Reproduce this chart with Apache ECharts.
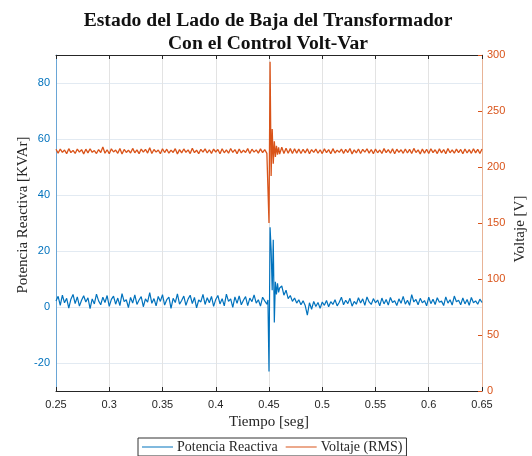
<!DOCTYPE html>
<html>
<head>
<meta charset="utf-8">
<script src="https://cdn.jsdelivr.net/npm/echarts/dist/echarts.min.js"></script>
<style>
html,body{margin:0;padding:0;background:#fff;}
#chart{width:532px;height:456px;}
</style>
</head>
<body>
<div id="chart"></div>
<script>
// ---- Data ----
const titleLines = ['Estado del Lado de Baja del Transformador', 'Con el Control Volt-Var'];
const seriesNames = ['Potencia Reactiva', 'Voltaje (RMS)'];
const xTicks = [0.25, 0.3, 0.35, 0.4, 0.45, 0.5, 0.55, 0.6, 0.65];
const leftTicks = [-20, 0, 20, 40, 60, 80];
const rightTicks = [0, 50, 100, 150, 200, 250, 300];

// sampling of the smooth parts: start times and step (s)
const beforeStart = 0.25, afterStart = 0.46, sampleStep = 0.002;

// Reactive power [kVAr], 0.250 .. 0.448
const qBefore = [
 2.1, 3.8, 0.6, 4.2, 1.5, 3.1, -0.4, 2.8, 4.5, 1.2, 3.6, 0.3, 2.4, 4.0, 1.8, 3.3, -0.6, 2.9, 1.1, 4.6,
 2.2, 0.8, 3.5, 1.6, 4.1, 0.2, 2.7, 3.9, 1.0, 3.2, 0.5, 4.8, 1.9, 2.6, -0.2, 3.4, 1.4, 4.3, 0.9, 2.5,
 3.7, 0.1, 2.9, 1.7, 5.1, 1.3, 3.0, 0.4, 3.8, 2.0, 4.4, 0.7, 2.6, 3.5, -0.5, 3.1, 1.6, 4.7, 1.0, 2.3,
 3.9, 0.6, 2.8, 4.2, 1.2, 3.4, -0.3, 2.5, 1.8, 4.5, 0.9, 3.3, 1.5, 3.8, 0.2, 2.7, 4.1, 1.1, 3.0, 0.4,
 4.6, 2.0, 2.9, -0.1, 3.6, 1.3, 4.0, 0.8, 2.4, 3.7, 0.5, 3.2, 1.9, 4.3, 1.4, 2.6, 0.3, 3.5, 2.2, 1.0
];
// Reactive power around the switching event [t, kVAr]
const qSpike = [
 [0.449, 2.5], [0.450, -23.0], [0.451, 28.5], [0.452, 20.5], [0.453, 6.0], [0.454, 24.0],
 [0.455, -5.5], [0.456, 9.0], [0.457, 4.5], [0.458, 8.5], [0.459, 5.2]
];
// Reactive power, 0.460 .. 0.650
const qAfter = [
 6.8, 7.5, 4.2, 6.0, 3.0, 4.1, 2.0, 3.2, 1.4, 2.6, 0.8, 2.2, 0.5, -2.9, 1.5, -0.8, 2.0, 0.2, 1.6, -0.5,
 1.8, 0.6, 2.3, 0.1, 1.9, 0.9, 2.6, 0.4, 1.7, 3.5, 0.8, 2.4, 1.2, 3.1, 0.3, 2.0, 1.0, 3.3,
 1.4, 2.9, 0.6, 3.6, 1.8, 0.9, 3.0, 1.5, 2.5, 0.4, 3.2, 1.1, 2.7, 0.7, 3.4, 1.6, 2.2, 0.5, 2.9, 1.3,
 3.8, 1.0, 2.4, 0.6, 4.4, 1.8, 2.7, 0.8, 3.1, 1.5, 2.3, 0.4, 3.5, 1.2, 2.8, 0.9, 3.3, 1.7, 2.1, 0.5,
 3.6, 1.4, 2.6, 0.7, 3.9, 1.9, 2.4, 0.8, 3.2, 1.1, 2.7, 0.6, 3.4, 1.5, 2.2, 1.0, 2.8, 1.6
];

// RMS voltage [V], 0.250 .. 0.448
const vBefore = [
 215.8, 212.4, 216.1, 213.0, 215.2, 211.9, 216.4, 212.8, 214.9, 212.1, 216.0, 213.3, 215.5, 211.7, 215.9, 212.6, 216.3, 213.1, 214.7, 212.0,
 215.6, 212.9, 217.8, 212.3, 215.4, 211.8, 216.2, 213.4, 215.1, 212.2, 216.5, 211.6, 215.7, 213.0, 215.0, 212.5, 216.6, 212.7, 215.3, 211.9,
 216.0, 213.2, 215.8, 212.4, 217.2, 212.1, 215.6, 213.3, 215.2, 211.8, 216.3, 212.9, 215.9, 212.3, 215.1, 213.0, 216.4, 211.7, 215.5, 212.6,
 216.1, 213.1, 215.3, 212.0, 216.7, 212.8, 215.0, 211.9, 215.8, 213.2, 216.2, 212.5, 215.4, 212.2, 216.0, 213.4, 215.7, 211.8, 216.3, 212.7,
 215.2, 212.3, 216.5, 213.0, 215.6, 211.9, 216.1, 212.6, 215.0, 212.9, 216.4, 212.1, 215.9, 213.3, 215.3, 212.4, 216.2, 212.8, 215.5, 212.2
];
// RMS voltage around the switching event [t, V]
const vSpike = [
 [0.449, 213.5], [0.450, 150.0], [0.451, 294.0], [0.452, 192.0], [0.453, 234.0], [0.454, 203.0],
 [0.455, 223.0], [0.456, 209.0], [0.457, 219.0], [0.458, 211.0], [0.459, 217.5]
];
// RMS voltage, 0.460 .. 0.650
const vAfter = [
 211.5, 217.6, 212.0, 216.8, 212.2, 216.4, 212.0, 216.2, 212.4, 216.0,
 212.1, 215.8, 212.6, 216.3, 211.9, 215.6, 213.0, 216.0, 212.3, 215.4,
 212.0, 216.2, 212.8, 215.5, 211.8, 216.4, 212.5, 215.1, 213.1, 216.0,
 212.2, 215.7, 212.9, 216.5, 211.7, 215.3, 212.6, 216.1, 212.0, 215.8,
 213.2, 216.3, 212.4, 215.6, 211.9, 216.0, 212.7, 215.2, 212.1, 216.4,
 212.8, 215.5, 212.3, 216.2, 211.8, 215.9, 213.0, 215.4, 212.2, 216.1,
 212.5, 215.7, 212.0, 216.6, 212.9, 215.3, 211.7, 216.0, 212.4, 215.8,
 212.1, 216.3, 212.8, 215.4, 212.0, 216.2, 212.6, 215.6, 211.9, 216.5,
 212.7, 215.2, 212.3, 216.0, 212.9, 215.7, 211.8, 216.1, 212.5, 215.5,
 212.2, 216.3, 212.6, 215.8, 212.0, 216.0
];

// ---- Build [t, value] pairs ----
function pairs(start, vals) {
  return vals.map((v, i) => [+(start + i * sampleStep).toFixed(4), v]);
}
const qData = pairs(beforeStart, qBefore).concat(qSpike, pairs(afterStart, qAfter));
const vData = pairs(beforeStart, vBefore).concat(vSpike, pairs(afterStart, vAfter));

const BLUE = '#0072BD', ORANGE = '#D95319', DARK = '#262626';
const SERIF = '"Liberation Serif", "Times New Roman", serif';
const SANS = '"Liberation Sans", Arial, Helvetica, sans-serif';

const chart = echarts.init(document.getElementById('chart'), null, {renderer: 'canvas'});
chart.setOption({
  animation: false,
  backgroundColor: '#fff',
  title: {
    text: titleLines.join('\n'),
    left: 263, top: 4, textAlign: 'center',
    textStyle: {fontFamily: SERIF, fontWeight: 'bold', fontSize: 19.6, lineHeight: 23, color: '#111'}
  },
  legend: {
    data: seriesNames.map(n => ({name: n, icon: 'rect'})),
    left: 138, top: 438,
    itemWidth: 31, itemHeight: 1, itemGap: 8,
    padding: [2, 4, 2, 4],
    borderColor: '#333', borderWidth: 1,
    textStyle: {fontFamily: SERIF, fontSize: 14, color: DARK, padding: [0, 0, 0, -1]}
  },
  grid: {left: 56, right: 50, top: 55, bottom: 65, containLabel: false},
  xAxis: [{
    type: 'value', position: 'bottom', min: xTicks[0], max: xTicks[xTicks.length - 1], interval: 0.05,
    axisLine: {onZero: false, lineStyle: {color: DARK, width: 1}},
    axisTick: {inside: true, length: 4, lineStyle: {color: DARK}},
    axisLabel: {fontFamily: SANS, fontSize: 11, color: DARK, margin: 8,
      formatter: v => String(+v.toFixed(2))},
    splitLine: {show: true, lineStyle: {color: '#e3e3e3', width: 1}}
  }, {
    type: 'value', position: 'top', min: xTicks[0], max: xTicks[xTicks.length - 1], interval: 0.05,
    axisLine: {show: true, onZero: false, lineStyle: {color: DARK, width: 1}},
    axisTick: {show: true, inside: true, length: 4, lineStyle: {color: DARK}},
    axisLabel: {show: false},
    splitLine: {show: false}
  }],
  yAxis: [{
    type: 'value', position: 'left', min: -30, max: 90, interval: 10,
    axisLine: {show: true, onZero: false, lineStyle: {color: '#6aa6d6', width: 1}},
    axisTick: {show: false},
    axisLabel: {fontFamily: SANS, fontSize: 11, color: BLUE, margin: 6,
      formatter: v => (leftTicks.indexOf(v) >= 0 ? String(v) : '')},
    splitLine: {show: true, showMinLine: true, showMaxLine: true,
      lineStyle: {color: ['rgba(0,0,0,0)', '#e2eaf2'], width: 1}}
  }, {
    type: 'value', position: 'right', min: rightTicks[0], max: rightTicks[rightTicks.length - 1], interval: 50,
    axisLine: {show: true, onZero: false, lineStyle: {color: '#e8b396', width: 1}},
    axisTick: {show: true, inside: true, length: 4, lineStyle: {color: ORANGE}},
    axisLabel: {fontFamily: SANS, fontSize: 11, color: ORANGE, margin: 5},
    splitLine: {show: false}
  }],
  graphic: [
    {type: 'text', x: 23, y: 215, rotation: Math.PI / 2,
     style: {text: 'Potencia Reactiva [KVAr]', font: '15px ' + SERIF, fill: DARK, align: 'center', verticalAlign: 'middle'}},
    {type: 'text', x: 520, y: 229, rotation: Math.PI / 2,
     style: {text: 'Voltaje [V]', font: '15px ' + SERIF, fill: DARK, align: 'center', verticalAlign: 'middle'}},
    {type: 'text', x: 269, y: 422,
     style: {text: 'Tiempo [seg]', font: '15px ' + SERIF, fill: DARK, align: 'center', verticalAlign: 'middle'}}
  ],
  series: [{
    name: seriesNames[0], type: 'line', xAxisIndex: 0, yAxisIndex: 0,
    data: qData, showSymbol: false, symbol: 'none', sampling: null,
    lineStyle: {color: BLUE, width: 1.2}, itemStyle: {color: BLUE}
  }, {
    name: seriesNames[1], type: 'line', xAxisIndex: 0, yAxisIndex: 1,
    data: vData, showSymbol: false, symbol: 'none', sampling: null,
    lineStyle: {color: ORANGE, width: 1.3}, itemStyle: {color: ORANGE}
  }]
});
</script>
</body>
</html>
